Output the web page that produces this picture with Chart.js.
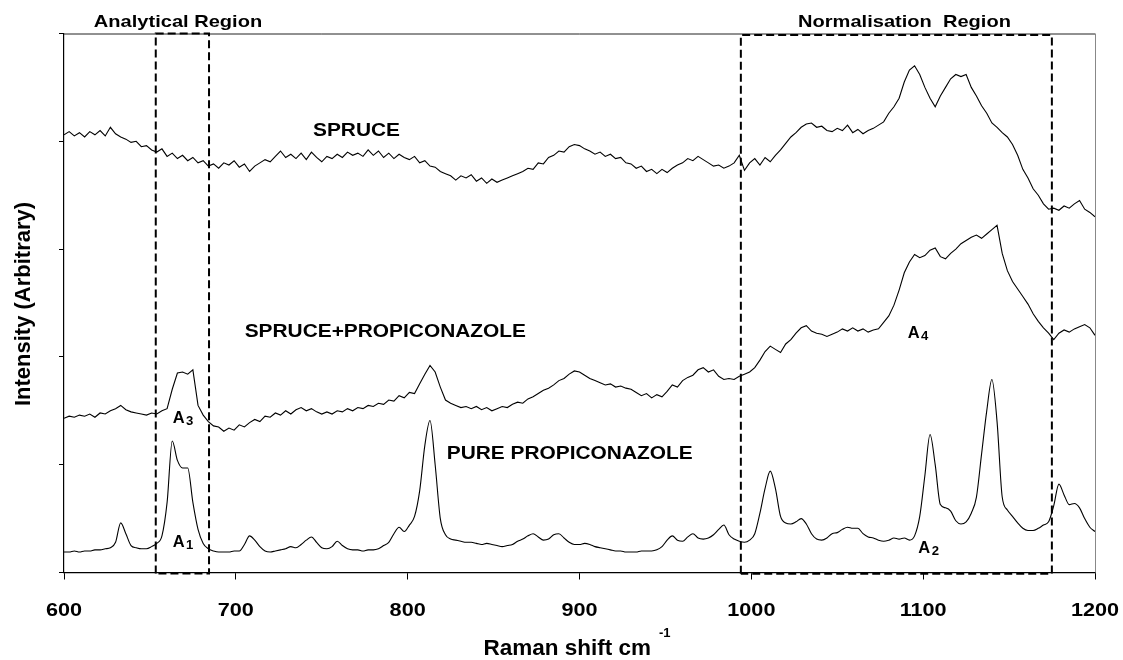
<!DOCTYPE html>
<html>
<head>
<meta charset="utf-8">
<script src="https://cdn.jsdelivr.net/npm/chart.js@4"></script>
<style>
  html, body { margin: 0; padding: 0; background: #fff; }
  #wrap { width: 1123px; height: 660px; position: relative; }
</style>
</head>
<body>
<div id="wrap"><canvas id="raman-chart"></canvas></div>
<script>
// Raman shift (cm-1) sampling points, shared by the three spectra
const ramanShift = [
    600, 603, 606, 609, 612, 615, 618, 621, 624, 627,
    630, 633, 636, 639, 642, 645, 648, 651, 654, 657,
    660, 663, 666, 669, 672, 675, 678, 681, 684, 687,
    690, 693, 696, 699, 702, 705, 708, 711, 714, 717,
    720, 723, 726, 729, 732, 735, 738, 741, 744, 747,
    750, 753, 756, 759, 762, 765, 768, 771, 774, 777,
    780, 783, 786, 789, 792, 795, 798, 801, 804, 807,
    810, 813, 816, 819, 822, 825, 828, 831, 834, 837,
    840, 843, 846, 849, 852, 855, 858, 861, 864, 867,
    870, 873, 876, 879, 882, 885, 888, 891, 894, 897,
    900, 903, 906, 909, 912, 915, 918, 921, 924, 927,
    930, 933, 936, 939, 942, 945, 948, 951, 954, 957,
    960, 963, 966, 969, 972, 975, 978, 981, 984, 987,
    990, 993, 996, 999, 1002, 1005, 1008, 1011, 1014, 1017,
    1020, 1023, 1026, 1029, 1032, 1035, 1038, 1041, 1044, 1047,
    1050, 1053, 1056, 1059, 1062, 1065, 1068, 1071, 1074, 1077,
    1080, 1083, 1086, 1089, 1092, 1095, 1098, 1101, 1104, 1107,
    1110, 1113, 1116, 1119, 1122, 1125, 1128, 1131, 1134, 1137,
    1140, 1143, 1146, 1149, 1152, 1155, 1158, 1161, 1164, 1167,
    1170, 1173, 1176, 1179, 1182, 1185, 1188, 1191, 1194, 1197,
    1200,
];

// SPRUCE (top trace)
const spruce = [
    4.06, 4.09, 4.05, 4.08, 4.04, 4.09, 4.06, 4.10, 4.05, 4.13,
    4.07, 4.04, 4.02, 3.99, 4.00, 3.95, 3.96, 3.92, 3.90, 3.93,
    3.86, 3.89, 3.84, 3.87, 3.82, 3.85, 3.80, 3.82, 3.77, 3.79,
    3.75, 3.80, 3.78, 3.82, 3.76, 3.79, 3.72, 3.77, 3.80, 3.83,
    3.81, 3.86, 3.91, 3.85, 3.88, 3.84, 3.89, 3.83, 3.90, 3.85,
    3.81, 3.86, 3.84, 3.88, 3.85, 3.90, 3.87, 3.89, 3.86, 3.92,
    3.87, 3.91, 3.85, 3.89, 3.84, 3.88, 3.85, 3.83, 3.86, 3.80,
    3.82, 3.77, 3.76, 3.72, 3.70, 3.68, 3.64, 3.68, 3.66, 3.69,
    3.63, 3.66, 3.61, 3.65, 3.62, 3.64, 3.66, 3.68, 3.70, 3.72,
    3.75, 3.74, 3.80, 3.79, 3.85, 3.87, 3.91, 3.90, 3.95, 3.97,
    3.96, 3.93, 3.91, 3.88, 3.90, 3.86, 3.88, 3.84, 3.85, 3.80,
    3.79, 3.75, 3.77, 3.72, 3.74, 3.70, 3.74, 3.71, 3.75, 3.78,
    3.80, 3.84, 3.82, 3.86, 3.83, 3.80, 3.77, 3.78, 3.75, 3.77,
    3.80, 3.87, 3.73, 3.80, 3.84, 3.78, 3.85, 3.81, 3.87, 3.92,
    3.98, 4.04, 4.08, 4.13, 4.16, 4.17, 4.13, 4.14, 4.10, 4.09,
    4.12, 4.10, 4.15, 4.08, 4.11, 4.07, 4.10, 4.12, 4.15, 4.18,
    4.26, 4.32, 4.40, 4.55, 4.66, 4.70, 4.62, 4.50, 4.40, 4.32,
    4.42, 4.50, 4.58, 4.62, 4.60, 4.62, 4.50, 4.42, 4.33, 4.26,
    4.17, 4.13, 4.08, 4.04, 3.97, 3.87, 3.74, 3.66, 3.56, 3.50,
    3.42, 3.37, 3.38, 3.36, 3.40, 3.38, 3.42, 3.45, 3.37, 3.34,
    3.30,
];

// SPRUCE+PROPICONAZOLE (middle trace)
const spruceTreated = [
    1.43, 1.45, 1.44, 1.46, 1.45, 1.47, 1.44, 1.48, 1.47, 1.50,
    1.52, 1.55, 1.51, 1.49, 1.48, 1.47, 1.46, 1.48, 1.47, 1.50,
    1.52, 1.70, 1.85, 1.86, 1.84, 1.88, 1.55, 1.46, 1.40, 1.36,
    1.35, 1.31, 1.34, 1.32, 1.37, 1.35, 1.39, 1.42, 1.40, 1.45,
    1.44, 1.48, 1.46, 1.50, 1.47, 1.51, 1.53, 1.50, 1.52, 1.49,
    1.47, 1.49, 1.47, 1.50, 1.49, 1.52, 1.50, 1.53, 1.52, 1.55,
    1.54, 1.57, 1.56, 1.60, 1.59, 1.64, 1.62, 1.67, 1.66, 1.75,
    1.84, 1.92, 1.86, 1.72, 1.60, 1.57, 1.55, 1.53, 1.54, 1.52,
    1.54, 1.51, 1.53, 1.50, 1.52, 1.54, 1.53, 1.56, 1.58, 1.57,
    1.61, 1.63, 1.66, 1.69, 1.71, 1.74, 1.78, 1.80, 1.84, 1.87,
    1.86, 1.83, 1.80, 1.78, 1.76, 1.74, 1.75, 1.72, 1.73, 1.71,
    1.70, 1.67, 1.64, 1.66, 1.62, 1.65, 1.63, 1.68, 1.74, 1.72,
    1.78, 1.81, 1.83, 1.88, 1.90, 1.86, 1.88, 1.82, 1.79, 1.80,
    1.79, 1.82, 1.84, 1.86, 1.90, 1.97, 2.05, 2.10, 2.07, 2.04,
    2.12, 2.16, 2.22, 2.27, 2.29, 2.24, 2.22, 2.21, 2.19, 2.21,
    2.23, 2.26, 2.24, 2.27, 2.24, 2.26, 2.23, 2.25, 2.26, 2.32,
    2.38, 2.48, 2.62, 2.78, 2.88, 2.95, 2.92, 2.94, 2.99, 3.01,
    2.93, 2.91, 2.96, 3.00, 3.05, 3.08, 3.11, 3.13, 3.10, 3.14,
    3.18, 3.22, 2.96, 2.80, 2.70, 2.63, 2.56, 2.49, 2.40, 2.33,
    2.27, 2.22, 2.16, 2.22, 2.25, 2.23, 2.26, 2.28, 2.30, 2.27,
    2.20,
];

// PURE PROPICONAZOLE (bottom trace)
const purePropiconazole = [
    0.19, 0.19, 0.20, 0.19, 0.20, 0.20, 0.21, 0.21, 0.22, 0.23,
    0.28, 0.46, 0.36, 0.25, 0.23, 0.22, 0.22, 0.24, 0.27, 0.34,
    0.65, 1.22, 1.04, 0.97, 0.97, 0.65, 0.40, 0.27, 0.22, 0.20,
    0.19, 0.19, 0.19, 0.20, 0.20, 0.26, 0.34, 0.30, 0.24, 0.20,
    0.19, 0.20, 0.21, 0.22, 0.24, 0.23, 0.26, 0.30, 0.33, 0.28,
    0.23, 0.22, 0.24, 0.29, 0.25, 0.22, 0.21, 0.21, 0.20, 0.21,
    0.21, 0.22, 0.25, 0.28, 0.36, 0.42, 0.38, 0.44, 0.52, 0.76,
    1.18, 1.41, 1.00, 0.50, 0.35, 0.31, 0.30, 0.29, 0.28, 0.28,
    0.27, 0.26, 0.27, 0.26, 0.25, 0.24, 0.25, 0.26, 0.29, 0.31,
    0.34, 0.36, 0.33, 0.30, 0.31, 0.35, 0.36, 0.32, 0.28, 0.26,
    0.26, 0.27, 0.26, 0.24, 0.23, 0.22, 0.21, 0.20, 0.20, 0.19,
    0.19, 0.19, 0.20, 0.20, 0.20, 0.21, 0.24, 0.30, 0.34, 0.30,
    0.29, 0.33, 0.36, 0.32, 0.31, 0.32, 0.35, 0.40, 0.44, 0.35,
    0.31, 0.29, 0.28, 0.30, 0.36, 0.55, 0.78, 0.94, 0.78, 0.52,
    0.46, 0.45, 0.47, 0.50, 0.45, 0.36, 0.31, 0.30, 0.32, 0.36,
    0.37, 0.40, 0.42, 0.41, 0.41, 0.36, 0.33, 0.32, 0.30, 0.29,
    0.30, 0.32, 0.31, 0.32, 0.30, 0.34, 0.52, 0.90, 1.28, 1.00,
    0.63, 0.60, 0.57, 0.48, 0.45, 0.47, 0.55, 0.70, 1.10, 1.50,
    1.79, 1.40, 0.70, 0.58, 0.52, 0.46, 0.41, 0.39, 0.39, 0.41,
    0.44, 0.47, 0.62, 0.82, 0.72, 0.63, 0.64, 0.60, 0.50, 0.42,
    0.38,
];

// dashed boxes: [from, to] in cm-1 and [bottom, top] in intensity units
const analyticalRegion = [653.4, 684.4];
const analyticalSpan = [-0.01, 5];
const normalisationRegion = [993.9, 1174.9];
const normalisationSpan = [-0.012, 4.985];

const xTicks = [600, 700, 800, 900, 1000, 1100, 1200];

// in-plot labels, anchored in data units
const traceLabels = [
    { text: "SPRUCE", x: 770.2, y: 4.049 },
    { text: "SPRUCE+PROPICONAZOLE", x: 787.0, y: 2.189 },
    { text: "PURE PROPICONAZOLE", x: 894.3, y: 1.053 },
];
const areaLabels = [
    { sub: "1", x: 663.3, y: 0.234 },
    { sub: "2", x: 1097.2, y: 0.181 },
    { sub: "3", x: 663.3, y: 1.390 },
    { sub: "4", x: 1091.0, y: 2.175 },
];

const FONT = '"Liberation Sans", Arial, sans-serif';

function series(values) {
    return ramanShift.map((x, i) => ({ x, y: values[i] }));
}

function box(region, span) {
    return [
        { x: region[0], y: span[0] },
        { x: region[0], y: span[1] },
        { x: region[1], y: span[1] },
        { x: region[1], y: span[0] },
        { x: region[0], y: span[0] },
    ];
}

function drawText(ctx, text, x, y, size, sx, align) {
    ctx.save();
    ctx.font = "bold " + size + "px " + FONT;
    ctx.translate(x, y);
    ctx.scale(sx, 1);
    ctx.textAlign = align;
    ctx.textBaseline = "alphabetic";
    ctx.fillStyle = "#000";
    ctx.fillText(text, 0, 0);
    ctx.restore();
}

const frameAndText = {
    id: "frameAndText",
    beforeDatasetsDraw(chart) {
        const { ctx, chartArea: a } = chart;
        ctx.save();
        ctx.lineWidth = 1;
        ctx.strokeStyle = "#222";
        ctx.beginPath();
        ctx.moveTo(a.left, a.top + 0.5);
        ctx.lineTo(a.right, a.top + 0.5);
        ctx.stroke();
        ctx.strokeStyle = "#888";
        ctx.beginPath();
        ctx.moveTo(a.right + 0.5, a.top);
        ctx.lineTo(a.right + 0.5, a.bottom);
        ctx.stroke();
        ctx.restore();
    },
    afterDraw(chart) {
        const { ctx, chartArea: a } = chart;
        const xs = chart.scales.x;
        const ys = chart.scales.y;

        // x tick labels
        xTicks.forEach(v => {
            drawText(ctx, String(v), xs.getPixelForValue(v), 615.5, 19, 1.14, "center");
        });

        // axis titles
        ctx.save();
        ctx.font = "bold 22.5px " + FONT;
        const main = "Raman shift cm";
        const w = ctx.measureText(main).width;
        ctx.restore();
        const mid = (a.left + a.right) / 2;
        const startX = mid - 96;
        drawText(ctx, main, startX, 655, 22.5, 1, "left");
        drawText(ctx, "-1", startX + w + 8, 637, 13, 1, "left");

        ctx.save();
        ctx.translate(29.5, (a.top + a.bottom) / 2 + 1);
        ctx.rotate(-Math.PI / 2);
        drawText(ctx, "Intensity (Arbitrary)", 0, 0, 22, 1, "center");
        ctx.restore();

        // region headings
        drawText(ctx, "Analytical Region", 178, 27.3, 17, 1.18, "center");
        drawText(ctx, "Normalisation  Region", 904.5, 26.7, 17, 1.18, "center");

        // trace labels
        traceLabels.forEach(l => {
            drawText(ctx, l.text, xs.getPixelForValue(l.x), ys.getPixelForValue(l.y), 18, 1.16, "center");
        });

        // band area labels A1..A4
        areaLabels.forEach(l => {
            const px = xs.getPixelForValue(l.x);
            const py = ys.getPixelForValue(l.y);
            drawText(ctx, "A", px, py, 17, 0.97, "left");
            drawText(ctx, l.sub, px + 13.3, py + 2, 12.5, 1.05, "left");
        });
    },
};

const lineStyle = {
    borderColor: "#000",
    borderWidth: 1.1,
    pointRadius: 0,
    tension: 0,
    fill: false,
};

const boxStyle = {
    borderColor: "#000",
    borderWidth: 2,
    borderDash: [8, 4],
    pointRadius: 0,
    tension: 0,
    fill: false,
    clip: false,
};

new Chart(document.getElementById("raman-chart"), {
    type: "line",
    data: {
        datasets: [
            { label: "SPRUCE", data: series(spruce), ...lineStyle },
            { label: "SPRUCE+PROPICONAZOLE", data: series(spruceTreated), ...lineStyle },
            // the pure compound spectrum is smooth, so let the peaks round off
            { label: "PURE PROPICONAZOLE", data: series(purePropiconazole), ...lineStyle, cubicInterpolationMode: "monotone" },
            { label: "Analytical Region", data: box(analyticalRegion, analyticalSpan), ...boxStyle },
            { label: "Normalisation Region", data: box(normalisationRegion, normalisationSpan), ...boxStyle },
        ],
    },
    options: {
        responsive: true,
        maintainAspectRatio: false,
        animation: false,
        devicePixelRatio: 1,
        layout: { padding: { left: 59, right: 28, top: 33.5, bottom: 80.5 } },
        plugins: {
            legend: { display: false },
            tooltip: { enabled: false },
        },
        scales: {
            x: {
                type: "linear",
                min: 600,
                max: 1200,
                ticks: { stepSize: 100, display: false },
                grid: { drawOnChartArea: false, drawTicks: true, tickLength: 7, color: "#000", lineWidth: 1 },
                border: { display: true, color: "#000", width: 1.2 },
            },
            y: {
                type: "linear",
                min: 0,
                max: 5,
                ticks: { stepSize: 1, display: false },
                grid: { drawOnChartArea: false, drawTicks: true, tickLength: 5, color: "#000", lineWidth: 1 },
                border: { display: true, color: "#000", width: 1.2 },
            },
        },
    },
    plugins: [frameAndText],
});
</script>
</body>
</html>
